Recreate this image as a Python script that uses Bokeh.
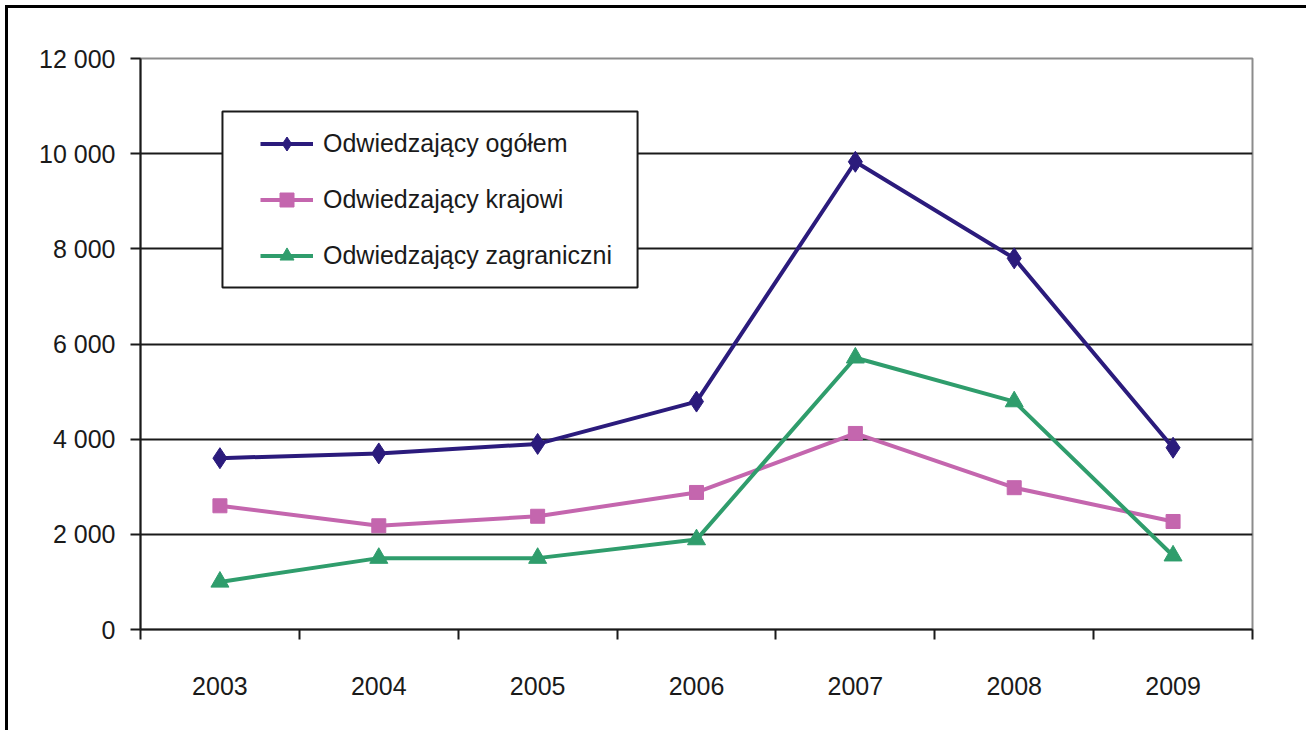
from bokeh.plotting import figure
from bokeh.models import FixedTicker, Legend, LegendItem, BoxAnnotation, Range1d
from bokeh.embed import file_html
from bokeh.resources import INLINE

# ---- data ----
years = ["2003", "2004", "2005", "2006", "2007", "2008", "2009"]
ogolem = [3600, 3700, 3900, 4790, 9830, 7800, 3820]
krajowi = [2600, 2180, 2380, 2880, 4120, 2980, 2270]
zagraniczni = [1000, 1500, 1500, 1890, 5710, 4790, 1550]
series_names = ["Odwiedzający ogółem", "Odwiedzający krajowi", "Odwiedzający zagraniczni"]
y_ticks = [0, 2000, 4000, 6000, 8000, 10000, 12000]
y_tick_labels = ["0", "2 000", "4 000", "6 000", "8 000", "10 000", "12 000"]

FONT = "Liberation Sans"
colors = ["#2B1B7C", "#C466AE", "#2F9D6C"]

x = [i + 0.5 for i in range(len(years))]

p = figure(width=1301, height=725, output_backend="svg", toolbar_location=None,
           x_range=Range1d(0, len(years)), y_range=Range1d(0, 12000),
           min_border_left=132, min_border_right=57, min_border_top=50, min_border_bottom=104)
p.styles = {"border-top": "3px solid black", "border-left": "3px solid black",
            "margin-top": "5px", "margin-left": "5px"}

p.background_fill_color = "white"
p.border_fill_color = "white"
p.outline_line_color = "#8c8c8c"
p.outline_line_width = 2

# grid
p.xgrid.visible = False
p.ygrid.ticker = FixedTicker(ticks=y_ticks[1:-1])
p.ygrid.grid_line_color = "#1a1a1a"
p.ygrid.grid_line_width = 2

# x axis
xa = p.xaxis[0]
xa.ticker = FixedTicker(ticks=x, minor_ticks=list(range(len(years) + 1)))
xa.major_label_overrides = {xi: yr for xi, yr in zip(x, years)}
xa.major_tick_out = 0
xa.major_tick_in = 0
xa.minor_tick_out = 10
xa.minor_tick_in = 0
xa.minor_tick_line_color = "#1a1a1a"
xa.minor_tick_line_width = 2
xa.axis_line_color = "#1a1a1a"
xa.axis_line_width = 2
xa.major_label_standoff = 37
xa.major_label_text_font = FONT
xa.major_label_text_font_size = "25px"
xa.major_label_text_color = "#1a1a1a"

# y axis
ya = p.yaxis[0]
ya.ticker = FixedTicker(ticks=y_ticks)
ya.major_label_overrides = {t: l for t, l in zip(y_ticks, y_tick_labels)}
ya.major_tick_out = 10
ya.major_tick_in = 0
ya.minor_tick_out = 0
ya.minor_tick_in = 0
ya.major_tick_line_color = "#1a1a1a"
ya.major_tick_line_width = 2
ya.axis_line_color = "#1a1a1a"
ya.axis_line_width = 2
ya.major_label_standoff = 15
ya.major_label_text_font = FONT
ya.major_label_text_font_size = "25px"
ya.major_label_text_color = "#1a1a1a"

# series
items = []
specs = [
    (ogolem, "diamond", 21),
    (krajowi, "square", 14),
    (zagraniczni, "triangle", 18),
]
for (vals, marker, size), name, c in zip(specs, series_names, colors):
    ln = p.line(x, vals, line_color=c, line_width=4)
    sc = p.scatter(x, vals, marker=marker, size=size, fill_color=c, line_color=c)
    items.append(LegendItem(label=name, renderers=[ln, sc]))

# legend box
box = BoxAnnotation(left=0.516, right=3.129, top=10886, bottom=7187,
                    fill_color="white", fill_alpha=1.0,
                    line_color="#1a1a1a", line_width=2, line_alpha=1.0)
p.add_layout(box)

legend = Legend(items=items, location=(110, 342),
                padding=10, spacing=12, label_height=44,
                glyph_width=53, glyph_height=35, label_standoff=10,
                label_text_font=FONT, label_text_font_size="25px",
                label_text_color="#1a1a1a",
                border_line_alpha=0, background_fill_alpha=0)
p.add_layout(legend)

open("out.html", "w").write(file_html(p, INLINE))
